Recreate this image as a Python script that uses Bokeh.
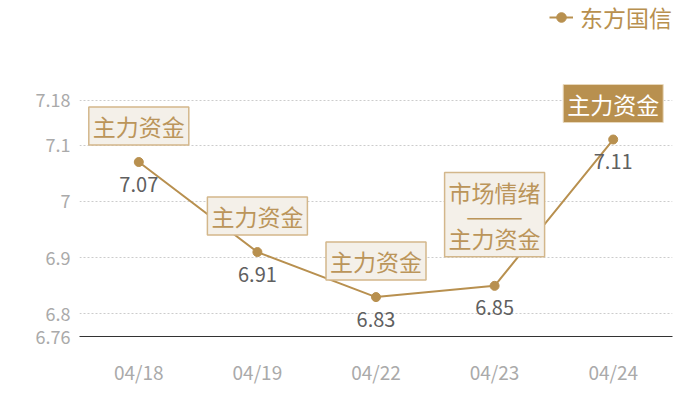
from bokeh.plotting import figure
from bokeh.models import (FixedTicker, Legend, LegendItem, ColumnDataSource,
                          CustomJSTickFormatter)
from bokeh.core.properties import value
from bokeh.embed import file_html
from bokeh.resources import INLINE

# ---- data ----
dates = ["04/18", "04/19", "04/22", "04/23", "04/24"]
prices = [7.07, 6.91, 6.83, 6.85, 7.11]
tags = ["主力资金", "主力资金", "主力资金", "市场情绪\n———\n主力资金", "主力资金"]
highlight = [False, False, False, False, True]
y_ticks = [6.76, 6.8, 6.9, 7.0, 7.1, 7.18]
series_name = "东方国信"

FONT = "Noto Sans CJK SC"
GOLD = "#b8904f"
BOX_BG = "#f4f0e9"
BOX_BORDER = "#d3b78b"
BOX_TEXT = "#bb955a"

p = figure(width=684, height=387, x_range=dates, y_range=(6.76, 7.357),
           output_backend="svg", toolbar_location=None,
           min_border_left=79, min_border_right=12, min_border_top=0,
           min_border_bottom=0)
p.outline_line_color = None
p.background_fill_color = "white"

# axes
p.yaxis.ticker = FixedTicker(ticks=y_ticks)
p.yaxis.formatter = CustomJSTickFormatter(code="return String(Math.round(tick*100)/100)")
p.yaxis.axis_line_color = None
p.yaxis.major_tick_line_color = None
p.yaxis.major_tick_out = 0
p.yaxis.major_tick_in = 0
p.yaxis.minor_tick_line_color = None
p.yaxis.major_label_text_color = "#aaaaaa"
p.yaxis.major_label_text_font = FONT
p.yaxis.major_label_text_font_size = "18px"
p.yaxis.major_label_standoff = 9

p.xaxis.axis_line_color = "#333333"
p.xaxis.axis_line_width = 1
p.xaxis.major_tick_line_color = None
p.xaxis.major_tick_out = 0
p.xaxis.major_tick_in = 0
p.xaxis.minor_tick_line_color = None
p.xaxis.major_label_text_color = "#aaaaaa"
p.xaxis.major_label_text_font = FONT
p.xaxis.major_label_text_font_size = "19px"
p.xaxis.major_label_standoff = 21

p.xgrid.grid_line_color = None
p.ygrid.ticker = FixedTicker(ticks=[t for t in y_ticks if t != y_ticks[0]])
p.ygrid.grid_line_color = "#cccccc"
p.ygrid.grid_line_dash = "2 2"

src = ColumnDataSource(dict(x=dates, y=prices,
                            val=[f"{v:.2f}" for v in prices]))
line = p.line("x", "y", source=src, line_color=GOLD, line_width=2)
dots = p.scatter("x", "y", source=src, size=9, fill_color=GOLD, line_color=GOLD)

# value labels
p.text("x", "y", text="val", source=src, text_align="center",
       text_baseline="middle", y_offset=22, text_color="#606060",
       text_font=value(FONT), text_font_size="20px")

# annotation boxes
def tag_src(flag):
    idx = [i for i, h in enumerate(highlight) if h == flag]
    return ColumnDataSource(dict(
        x=[dates[i] for i in idx], y=[prices[i] for i in idx],
        tag=[tags[i] for i in idx],
        off=[-17 - (12 if "\n" in tags[i] else 0) for i in idx]))

p.text("x", "y", text="tag", source=tag_src(False), text_align="center",
       text_baseline="bottom", y_offset="off", text_color=BOX_TEXT,
       text_font=value(FONT), text_font_size="23px",
       background_fill_color=BOX_BG, border_line_color=BOX_BORDER,
       border_line_width=1.5, padding=dict(left=4, right=4, top=2, bottom=2),
       text_line_height=0.68)
p.text("x", "y", text="tag", source=tag_src(True), text_align="center",
       text_baseline="bottom", y_offset="off", text_color="white",
       text_font=value(FONT), text_font_size="23px",
       background_fill_color=GOLD, border_line_color="#e8d8bc",
       border_line_width=1, padding=dict(left=4, right=4, top=2, bottom=2))

legend = Legend(items=[LegendItem(label=series_name, renderers=[line, dots])],
                location="top_right", border_line_color=None,
                background_fill_alpha=0, margin=0, padding=0,
                label_text_font=FONT, label_text_font_size="23px",
                label_text_color=GOLD, glyph_width=24, label_standoff=7,
                label_height=30, glyph_height=30)
p.add_layout(legend)

open("out.html", "w").write(file_html(p, INLINE))
